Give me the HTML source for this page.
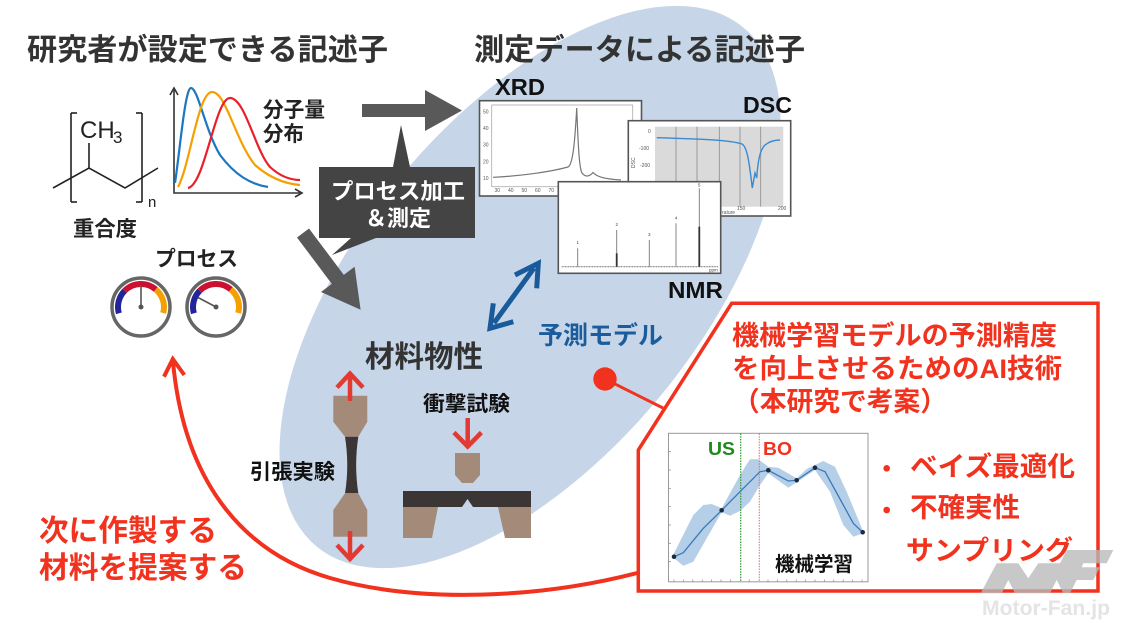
<!DOCTYPE html>
<html><head><meta charset="utf-8"><style>
html,body{margin:0;padding:0;background:#fff;}
svg{display:block;}
.jp{font-family:"Liberation Sans","Noto Sans CJK JP",sans-serif;font-weight:bold;}
.lat{font-family:"Liberation Sans",sans-serif;}
</style></head><body>
<svg width="1123" height="630" viewBox="0 0 1123 630" xmlns="http://www.w3.org/2000/svg">
<rect width="1123" height="630" fill="#fff"/>
<!-- big ellipse -->
<ellipse cx="530" cy="287" rx="336" ry="170" transform="rotate(-50.6 530 287)" fill="#c6d6e8"/>

<!-- titles -->
<text class="jp" x="27" y="60" font-size="30" fill="#333" textLength="361" lengthAdjust="spacingAndGlyphs">研究者が設定できる記述子</text>
<text class="jp" x="474" y="60" font-size="30" fill="#333" textLength="331" lengthAdjust="spacingAndGlyphs">測定データによる記述子</text>

<!-- polymer structure -->
<g stroke="#222" stroke-width="1.6" fill="none">
<polyline points="71,113 71,202"/><polyline points="71,113 77,113"/><polyline points="71,202 77,202"/>
<polyline points="142,113 142,202"/><polyline points="142,113 136,113"/><polyline points="142,202 136,202"/>
<polyline points="53,188 89,168 125,188 158,168"/>
<polyline points="89,168 89,143"/>
</g>
<text class="lat" x="80" y="138" font-size="24" fill="#222">CH</text>
<text class="lat" x="113" y="143" font-size="17" fill="#222">3</text>
<text class="lat" x="148" y="207" font-size="15" fill="#222">n</text>
<text class="jp" x="73" y="236" font-size="21" fill="#222" textLength="64" lengthAdjust="spacingAndGlyphs">重合度</text>

<!-- distribution chart -->
<g stroke="#333" stroke-width="1.6" fill="none">
<polyline points="174,90 174,193 300,193"/>
<polyline points="170,95 174,88 178,95"/>
<polyline points="295,189 302,193 295,197"/>
</g>
<path d="M175,183 C180,150 185,88 191,88 C198,88 205,130 220,155 C235,175 250,184 268,187" stroke="#1a78c2" stroke-width="2.2" fill="none"/>
<path d="M178,187 C190,165 198,92 212,92 C226,92 235,140 255,165 C272,180 288,184 300,185" stroke="#f5a000" stroke-width="2.2" fill="none"/>
<path d="M188,188 C205,185 215,98 230,98 C245,98 255,150 270,167 C282,178 292,180 300,180" stroke="#e8202a" stroke-width="2.2" fill="none"/>
<text class="jp" x="263" y="117" font-size="21" fill="#222" textLength="62" lengthAdjust="spacingAndGlyphs">分子量</text>
<text class="jp" x="263" y="141" font-size="21" fill="#222" textLength="41" lengthAdjust="spacingAndGlyphs">分布</text>

<!-- gauges -->
<text class="jp" x="155" y="266" font-size="21" fill="#222" textLength="83" lengthAdjust="spacingAndGlyphs">プロセス</text>
<g>
<circle cx="141" cy="307" r="29" fill="#fff" stroke="#666" stroke-width="3.5"/>
<path d="M118.9,313.3 A23,23 0 0 1 124.7,290.7" stroke="#23239a" stroke-width="6" fill="none"/>
<path d="M124.7,290.7 A23,23 0 0 1 155.8,289.4" stroke="#cc1030" stroke-width="6" fill="none"/>
<path d="M155.8,289.4 A23,23 0 0 1 163.2,313" stroke="#f5a000" stroke-width="6" fill="none"/>
<line x1="141" y1="307" x2="141" y2="285" stroke="#555" stroke-width="1.6"/>
<circle cx="141" cy="307" r="2.5" fill="#555"/>
<circle cx="216" cy="307" r="29" fill="#fff" stroke="#666" stroke-width="3.5"/>
<path d="M193.9,313.3 A23,23 0 0 1 199.7,290.7" stroke="#23239a" stroke-width="6" fill="none"/>
<path d="M199.7,290.7 A23,23 0 0 1 230.8,289.4" stroke="#cc1030" stroke-width="6" fill="none"/>
<path d="M230.8,289.4 A23,23 0 0 1 238.2,313" stroke="#f5a000" stroke-width="6" fill="none"/>
<line x1="216" y1="307" x2="198" y2="297.5" stroke="#555" stroke-width="1.6"/>
<circle cx="216" cy="307" r="2.5" fill="#555"/>
</g>

<!-- grey arrows -->
<polygon points="362,104 425,104 425,90 462,110.5 425,131 425,117 362,117" fill="#595959"/>
<polygon points="309,228.5 343.8,274.9 354.6,266.8 360.6,309.8 321,292 331.8,283.9 297,237.5" fill="#595959"/>

<!-- speech bubble -->
<path d="M319,167 H393 L401,125 L410,167 H475 V238 H376 L332,255 L351,238 H319 Z" fill="#444"/>
<text class="jp" x="398" y="199" font-size="22" fill="#fff" text-anchor="middle" textLength="134" lengthAdjust="spacingAndGlyphs">プロセス加工</text>
<text class="jp" x="398" y="226" font-size="22" fill="#fff" text-anchor="middle" textLength="66" lengthAdjust="spacingAndGlyphs">＆測定</text>

<!-- XRD chart -->
<text class="lat" x="495" y="95" font-size="23" font-weight="bold" fill="#111" textLength="50" lengthAdjust="spacingAndGlyphs">XRD</text>
<rect x="479.5" y="100.7" width="162" height="95.3" fill="#fff" stroke="#555" stroke-width="1.6"/>
<rect x="491.7" y="105" width="141" height="81.7" fill="none" stroke="#aaa" stroke-width="0.8"/>
<g class="lat" font-size="5" fill="#555">
<text x="483" y="113.5">50</text><text x="483" y="130">40</text><text x="483" y="146.7">30</text><text x="483" y="163.4">20</text><text x="483" y="180">10</text>
<text x="494.5" y="192">30</text><text x="508" y="192">40</text><text x="521.5" y="192">50</text><text x="535" y="192">60</text><text x="548.5" y="192">70</text>
</g>
<path d="M493,177.3 C520,176 550,172 568,167 C573,165 575,140 576.7,108 C578,140 579,168 582,173 C586,178 590,176 593,172.5 C597,177 605,179 621,180" stroke="#7a7474" stroke-width="1.2" fill="none"/>

<!-- DSC chart -->
<text class="lat" x="743" y="113" font-size="23" font-weight="bold" fill="#111" textLength="49" lengthAdjust="spacingAndGlyphs">DSC</text>
<rect x="628.3" y="120.7" width="162.4" height="95.3" fill="#fff" stroke="#555" stroke-width="1.6"/>
<rect x="655" y="126.7" width="128.3" height="80" fill="#dadada"/>
<g stroke="#8a8a8a" stroke-width="0.8">
<line x1="676" y1="126.7" x2="676" y2="206.7"/><line x1="697" y1="126.7" x2="697" y2="206.7"/><line x1="719.3" y1="126.7" x2="719.3" y2="206.7"/><line x1="740" y1="126.7" x2="740" y2="206.7"/><line x1="760.7" y1="126.7" x2="760.7" y2="206.7"/>
</g>
<g class="lat" font-size="5" fill="#555">
<text x="648" y="133">0</text><text x="639" y="150">-100</text><text x="640" y="167">-200</text>
<text x="737" y="210">150</text><text x="778" y="210">200</text><text x="722" y="214">rature</text>
<text x="633" y="170" transform="rotate(-90 633 168)">DSC</text>
</g>
<path d="M656.7,137.7 C700,139 730,140 742,144 C748,147 750,170 752.3,188 L755,173 L756.7,178 C758,160 760,150 765,145 C770,141 775,140 780,140" stroke="#3a8ad0" stroke-width="1.4" fill="none"/>

<!-- NMR chart -->
<rect x="558.3" y="181.7" width="162.4" height="91.6" fill="#fff" stroke="#555" stroke-width="1.6"/>
<line x1="561.7" y1="266.7" x2="718.3" y2="266.7" stroke="#777" stroke-width="1.2" stroke-dasharray="1 0.6"/>
<g stroke="#777" stroke-width="0.9">
<line x1="577.7" y1="248.3" x2="577.7" y2="266.7"/>
<line x1="616.7" y1="230" x2="616.7" y2="266.7"/>
<line x1="649.3" y1="240" x2="649.3" y2="266.7"/>
<line x1="676" y1="223.3" x2="676" y2="266.7"/>
<line x1="699.3" y1="188.3" x2="699.3" y2="266.7"/>
</g>
<line x1="616.7" y1="253.3" x2="616.7" y2="266.7" stroke="#333" stroke-width="1.8"/>
<line x1="699.3" y1="226.7" x2="699.3" y2="266.7" stroke="#333" stroke-width="1.8"/>
<g class="lat" font-size="4.5" fill="#444">
<text x="576.5" y="244">1</text><text x="615.5" y="226">2</text><text x="648" y="236">3</text><text x="674.8" y="219.5">4</text><text x="698" y="186.5">5</text><text x="709" y="271.5">ppm</text>
</g>
<text class="lat" x="668" y="298" font-size="23" font-weight="bold" fill="#111" textLength="55" lengthAdjust="spacingAndGlyphs">NMR</text>

<!-- blue double arrow -->
<g stroke="#185a9a" stroke-width="5" fill="none" stroke-linecap="butt">
<line x1="494" y1="323" x2="534" y2="268"/>
<polyline points="515,275 538.3,263.3 536.7,288.3"/>
<polyline points="493.3,303.3 490,328.3 513.3,321.7"/>
</g>
<text class="jp" x="538" y="344" font-size="25" fill="#1b5c9c" textLength="125" lengthAdjust="spacingAndGlyphs">予測モデル</text>

<!-- material properties -->
<text class="jp" x="365" y="367" font-size="30" fill="#333" textLength="118" lengthAdjust="spacingAndGlyphs">材料物性</text>
<!-- tensile -->
<polygon points="333.3,395.7 367.3,395.7 367.3,421.7 358.3,436.7 345,436.7 333.3,421.7" fill="#a48b79"/>
<path d="M345,436.7 L358.3,436.7 Q354,465 358.3,493.3 L345,493.3 Q349.5,465 345,436.7 Z" fill="#3b3534"/>
<polygon points="345,493.3 358.3,493.3 367.3,510 367.3,536.7 333.3,536.7 333.3,510" fill="#a48b79"/>
<g stroke="#e23a32" stroke-width="4.5" fill="none">
<line x1="350" y1="401" x2="350" y2="375"/>
<polyline points="337,387.5 350,373.5 363,387.5"/>
<line x1="350" y1="531" x2="350" y2="557"/>
<polyline points="337,545 350,559 363,545"/>
</g>
<text class="jp" x="250" y="479" font-size="21" fill="#111" textLength="85" lengthAdjust="spacingAndGlyphs">引張実験</text>
<!-- impact -->
<text class="jp" x="423" y="411" font-size="21" fill="#111" textLength="87" lengthAdjust="spacingAndGlyphs">衝撃試験</text>
<g stroke="#e23a32" stroke-width="4.5" fill="none">
<line x1="467.7" y1="418" x2="467.7" y2="445"/>
<polyline points="454,432.5 467.7,446.5 481.4,432.5"/>
</g>
<polygon points="455,453 480,453 480,475 473,483 462,483 455,475" fill="#a48b79"/>
<path d="M403,491 H531 V507 H473 L467.5,499 L462,507 H403 Z" fill="#3b3534"/>
<polygon points="403,507 438,507 432,538 403,538" fill="#a48b79"/>
<polygon points="498,507 531,507 531,538 505,538" fill="#a48b79"/>

<!-- red curved feedback arrow -->
<path d="M637,573 C540,598 420,604 330,578 C250,555 185,490 173,362" stroke="#f0321e" stroke-width="4" fill="none"/>
<polyline points="164,376.7 172.8,359 184.3,375" stroke="#f0321e" stroke-width="4" fill="none"/>
<text class="jp" x="39" y="541" font-size="30" fill="#f0321e" textLength="178" lengthAdjust="spacingAndGlyphs">次に作製する</text>
<text class="jp" x="39" y="578" font-size="30" fill="#f0321e" textLength="208" lengthAdjust="spacingAndGlyphs">材料を提案する</text>

<!-- red dot + connector -->
<line x1="605" y1="379" x2="663" y2="408" stroke="#f0321e" stroke-width="3"/>
<circle cx="605" cy="379" r="11.7" fill="#f0321e"/>

<!-- red box -->
<polygon points="731.7,303.3 1098,303.3 1098,591 638.3,591 638.3,450" fill="#fff" stroke="#f0321e" stroke-width="3.5"/>
<text class="jp" x="732" y="345" font-size="27" fill="#f0321e" textLength="325" lengthAdjust="spacingAndGlyphs">機械学習モデルの予測精度</text>
<text class="jp" x="732" y="378" font-size="27" fill="#f0321e" textLength="330" lengthAdjust="spacingAndGlyphs">を向上させるためのAI技術</text>
<text class="jp" x="733" y="411" font-size="27" fill="#f0321e" textLength="214" lengthAdjust="spacingAndGlyphs">（本研究で考案）</text>

<!-- ML chart -->
<rect x="668.5" y="433.3" width="199.5" height="148.5" fill="#fff" stroke="#999" stroke-width="1"/>
<g stroke="#888" stroke-width="0.7">
<line x1="668.5" y1="451.7" x2="671" y2="451.7"/><line x1="668.5" y1="470" x2="671" y2="470"/><line x1="668.5" y1="488.3" x2="671" y2="488.3"/><line x1="668.5" y1="506.7" x2="671" y2="506.7"/><line x1="668.5" y1="525" x2="671" y2="525"/><line x1="668.5" y1="543.3" x2="671" y2="543.3"/><line x1="668.5" y1="561.7" x2="671" y2="561.7"/>
<line x1="674" y1="581.8" x2="674" y2="579.5"/><line x1="683.4" y1="581.8" x2="683.4" y2="579.5"/><line x1="692.8" y1="581.8" x2="692.8" y2="579.5"/><line x1="702.2" y1="581.8" x2="702.2" y2="579.5"/><line x1="711.6" y1="581.8" x2="711.6" y2="579.5"/><line x1="721" y1="581.8" x2="721" y2="579.5"/><line x1="730.4" y1="581.8" x2="730.4" y2="579.5"/><line x1="749.2" y1="581.8" x2="749.2" y2="579.5"/><line x1="768" y1="581.8" x2="768" y2="579.5"/><line x1="777.4" y1="581.8" x2="777.4" y2="579.5"/><line x1="786.8" y1="581.8" x2="786.8" y2="579.5"/><line x1="796.2" y1="581.8" x2="796.2" y2="579.5"/><line x1="805.6" y1="581.8" x2="805.6" y2="579.5"/><line x1="815" y1="581.8" x2="815" y2="579.5"/><line x1="824.4" y1="581.8" x2="824.4" y2="579.5"/><line x1="833.8" y1="581.8" x2="833.8" y2="579.5"/><line x1="843.2" y1="581.8" x2="843.2" y2="579.5"/><line x1="852.6" y1="581.8" x2="852.6" y2="579.5"/><line x1="862" y1="581.8" x2="862" y2="579.5"/>
</g>
<polygon points="674,553.3 693.3,515 703.3,505 711.7,504 721.7,508.3 740,475 750,459.3 758.3,459.3 768.3,466.7 778.3,467.7 796.7,478.3 806.7,469 823.3,461 835,466.7 846.7,491.7 863.3,531.7 863.3,533.3 853.3,536.7 843.3,525 830,491.7 815,470 796.7,482.3 788.3,487.7 768.3,473.3 760,485 750,501.7 740,511 730,515.7 721.7,512.3 706.7,538.3 693.3,561.7 683.3,565.7 674,558.3" fill="#b6cfe8"/>
<line x1="740.7" y1="433.5" x2="740.7" y2="581.5" stroke="#2a9a2a" stroke-width="1.2" stroke-dasharray="1.5 1.2"/>
<line x1="759.3" y1="433.5" x2="759.3" y2="581.5" stroke="#f07070" stroke-width="1.1" stroke-dasharray="1.5 1.2"/>
<polyline points="674,556.7 683.3,552.7 703.3,528.3 721.7,510.3 740,491.7 760,471.7 768.3,470.3 788.3,481 796.7,480.3 815,467.7 825,471.7 843.3,505 853.3,523.3 862.7,532.3" stroke="#3a7ab8" stroke-width="1.3" fill="none"/>
<g fill="#1a2a40">
<circle cx="674" cy="556.7" r="2.3"/><circle cx="721.7" cy="510.3" r="2.3"/><circle cx="768.3" cy="470.3" r="2.3"/><circle cx="796.7" cy="480.3" r="2.3"/><circle cx="815" cy="467.7" r="2.3"/><circle cx="862.7" cy="532.3" r="2.3"/>
</g>
<text class="lat" x="708" y="455" font-size="18" font-weight="bold" fill="#1f8a1f" textLength="27" lengthAdjust="spacingAndGlyphs">US</text>
<text class="lat" x="763" y="455" font-size="18" font-weight="bold" fill="#f0321e" textLength="29" lengthAdjust="spacingAndGlyphs">BO</text>
<text class="jp" x="775" y="571" font-size="20" fill="#111" textLength="78" lengthAdjust="spacingAndGlyphs">機械学習</text>

<!-- bullets -->
<circle cx="886.7" cy="468.3" r="3.3" fill="#f0321e"/>
<circle cx="886.7" cy="510" r="3.3" fill="#f0321e"/>
<text class="jp" x="910" y="476" font-size="27" fill="#f0321e" textLength="165" lengthAdjust="spacingAndGlyphs">ベイズ最適化</text>
<text class="jp" x="910" y="517" font-size="27" fill="#f0321e" textLength="110" lengthAdjust="spacingAndGlyphs">不確実性</text>
<text class="jp" x="906" y="560" font-size="27" fill="#f0321e" textLength="167" lengthAdjust="spacingAndGlyphs">サンプリング</text>

<!-- watermark -->
<polygon points="980.7,593.3 996.7,563.3 1018.3,563.3 1028.3,578.3 1038.3,563.3 1060,563.3 1066.7,550 1113.3,550 1106.7,563.3 1083.3,563.3 1081.7,567.3 1100,567.3 1093.3,580 1076.7,580 1070,593.3 1063.3,593.3 1056.7,580 1050,593.3 1015,593.3 1008.3,580 1001.7,593.3" fill="#b8b8b8" opacity="0.78"/>
<text class="lat" x="982" y="615" font-size="21" font-weight="bold" fill="#e4e4e4" textLength="128" lengthAdjust="spacingAndGlyphs">Motor-Fan.jp</text>
</svg>
</body></html>
